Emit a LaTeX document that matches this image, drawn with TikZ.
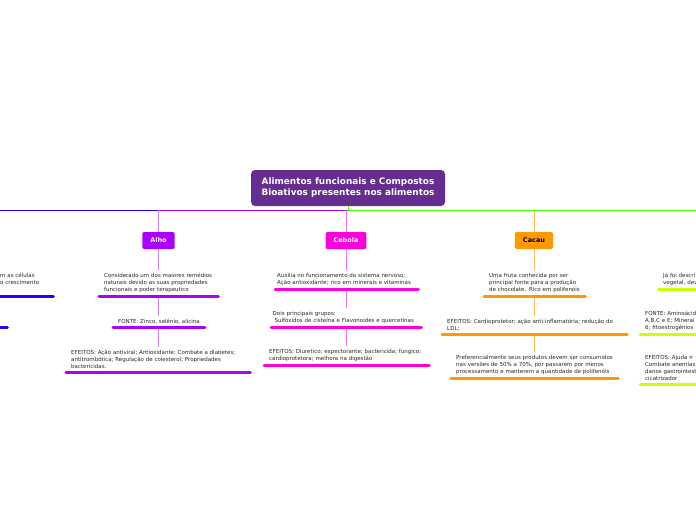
\documentclass[tikz,border=0pt]{standalone}
\usepackage{fontspec}
\setmainfont{DejaVu Sans}
\usepackage{tikz}
\usetikzlibrary{shapes,arrows,positioning}

\definecolor{rootpurple}{RGB}{102,45,145}
\definecolor{alhopurple}{RGB}{170,0,255}
\definecolor{alholink}{RGB}{210,130,255}
\definecolor{cebolapink}{RGB}{255,0,221}
\definecolor{cebolalink}{RGB}{255,110,238}
\definecolor{cacauorange}{RGB}{255,153,0}
\definecolor{cacaulink}{RGB}{255,190,80}
\definecolor{leftblue}{RGB}{34,0,255}
\definecolor{rightgreen}{RGB}{68,255,0}
\definecolor{rightlime}{RGB}{204,255,0}

\begin{document}
\begin{tikzpicture}[x=1pt, y=-1pt]
    % Define styles
    \tikzstyle{central} = [rectangle, rounded corners=4pt, fill=rootpurple, text=white, font=\bfseries\fontsize{8.9}{11}\selectfont, align=center, minimum width=194pt, minimum height=36pt, inner sep=0pt]
    \tikzstyle{topic} = [rectangle, rounded corners=2pt, font=\bfseries\fontsize{6.5}{8}\selectfont, minimum height=17pt, inner xsep=8pt, inner ysep=0pt]
    \tikzstyle{note} = [rectangle, align=left, anchor=south west, inner xsep=5pt, inner ysep=3pt, text=black!85, font=\fontsize{5.5}{7}\selectfont]
    \tikzstyle{bar} = [line width=3pt, line cap=round]
    \tikzstyle{link} = [line width=0.8pt]
    \tikzstyle{bus} = [line width=1pt]

    \useasboundingbox (0,0) rectangle (696,520);
    \clip (0,0) rectangle (696,520);

    % Nodes
    \node[central] (root) at (348,188) {Alimentos funcionais e Compostos\\Bioativos presentes nos alimentos};
    \coordinate (bus) at (348,210);
    \coordinate (left_end) at (-10,210);
    \coordinate (right_end) at (710,210);

    \node[topic, fill=alhopurple, text=white] (alho) at (158.5,240.5) {Alho};
    \node[topic, fill=cebolapink, text=white] (cebola) at (346,240.5) {Cebola};
    \node[topic, fill=cacauorange, text=black] (cacau) at (534,240.5) {Cacau};

    \node[note, text width=109pt] (alho_desc) at (99,296) {Considerado um dos maiores remédios\\naturais devido as suas propriedades\\funcionais e poder terapeutico};
    \node[note, minimum width=91pt] (alho_fonte) at (113,327) {FONTE: Zinco, selênio, alicina};
    \node[note, text width=174pt] (alho_efeitos) at (66,372) {EFEITOS: Ação antiviral; Antioxidante; Combate a diabetes;\\antitrombótica; Regulação de colesterol; Propriedades\\bactericidas.};

    \node[note, text width=139pt, inner xsep=2pt] (cebola_desc) at (275,289) {Auxilia no funcionamento do sistema nervoso;\\Ação antioxidante; rico em minerais e vitaminas};
    \node[note, text width=147pt, inner xsep=1.5pt] (cebola_grupos) at (271,327) {Dois principais grupos:\\\hspace{2pt}Sulfóxidos de cisteína e Flavonoides e quercetinas};
    \node[note, text width=155pt] (cebola_efeitos) at (264,365) {EFEITOS: Diuretico; expectorante; bactericida; fungico;\\cardioprotetora; melhora na digestão};

    \node[note, text width=91pt] (cacau_desc) at (484,296) {Uma fruta conhecida por ser\\principal fonte para a produção\\de chocolate. Rico em polifenóis};
    \node[note, text width=175pt] (cacau_efeitos) at (442,334) {EFEITOS: Cardioprotetor; ação anti-inflamatória; redução do\\LDL;};
    \node[note, text width=157pt] (cacau_consumo) at (451,378) {Preferencialmente seus produtos devem ser consumidos\\nas versões de 50\% a 70\%, por passarem por menos\\processamento e manterem a quantidade de polifenóis};

    \node[note, text width=48pt, minimum height=34.5pt] (left_desc) at (-5,296) {m as células\\o crescimento};
    \node[note, minimum width=40pt] (left_fonte) at (-33,327) {};

    \node[note, text width=80pt] (right_desc) at (658,289) {Já foi descri\\vegetal, dev};
    \node[note, text width=80pt] (right_fonte) at (640,334) {FONTE: Aminoácid\\A,B,C e E; Minerai\\6; fitoestrogênios};
    \node[note, text width=80pt] (right_efeitos) at (640,384) {EFEITOS: Ajuda n\\Combate anemias;\\danos gastrointest\\cicatrizador};

    % Connections
    \draw[bus, leftblue] (alho.north |- bus) -- (left_end);
    \draw[bus, alhopurple] (bus) -- (alho.north |- bus);
    \draw[link, alholink] (alho.north |- bus) -- (alho.north);
    \draw[link, cebolalink] (cebola.north |- bus) -- (cebola.north);
    \draw[link, cacaulink] (cacau.north |- bus) -- (cacau.north);
    \draw[bus, rightgreen] (root.south) |- (right_end);

    \draw[link, alholink] (alho.south) -- (alho.south |- alho_desc.north);
    \draw[link, alholink] (alho.south |- alho_desc.south) -- (alho.south |- alho_fonte.north);
    \draw[link, alholink] (alho.south |- alho_fonte.south) -- (alho.south |- alho_efeitos.north);
    \draw[bar, alhopurple] (alho_desc.south west) -- (alho_desc.south east);
    \draw[bar, alhopurple] (alho_fonte.south west) -- (alho_fonte.south east);
    \draw[bar, alhopurple] (alho_efeitos.south west) -- (alho_efeitos.south east);

    \draw[link, cebolalink] (cebola.south) -- (cebola.south |- cebola_desc.north);
    \draw[link, cebolalink] (cebola.south |- cebola_desc.south) -- (cebola.south |- cebola_grupos.north);
    \draw[link, cebolalink] (cebola.south |- cebola_grupos.south) -- (cebola.south |- cebola_efeitos.north);
    \draw[bar, cebolapink] (cebola_desc.south west) -- (cebola_desc.south east);
    \draw[bar, cebolapink] (cebola_grupos.south west) -- (cebola_grupos.south east);
    \draw[bar, cebolapink] (cebola_efeitos.south west) -- (cebola_efeitos.south east);

    \draw[link, cacaulink] (cacau.south) -- (cacau.south |- cacau_desc.north);
    \draw[link, cacaulink] (cacau.south |- cacau_desc.south) -- (cacau.south |- cacau_efeitos.north);
    \draw[link, cacaulink] (cacau.south |- cacau_efeitos.south) -- (cacau.south |- cacau_consumo.north);
    \draw[bar, cacauorange] (cacau_desc.south west) -- (cacau_desc.south east);
    \draw[bar, cacauorange] (cacau_efeitos.south west) -- (cacau_efeitos.south east);
    \draw[bar, cacauorange] (cacau_consumo.south west) -- (cacau_consumo.south east);

    \draw[bar, leftblue] (left_desc.south west) -- (left_desc.south east);
    \draw[bar, leftblue] (left_fonte.south west) -- (left_fonte.south east);

    \draw[bar, rightlime] (right_desc.south west) -- (right_desc.south east);
    \draw[bar, rightlime] (right_fonte.south west) -- (right_fonte.south east);
    \draw[bar, rightlime] (right_efeitos.south west) -- (right_efeitos.south east);
\end{tikzpicture}
\end{document}
